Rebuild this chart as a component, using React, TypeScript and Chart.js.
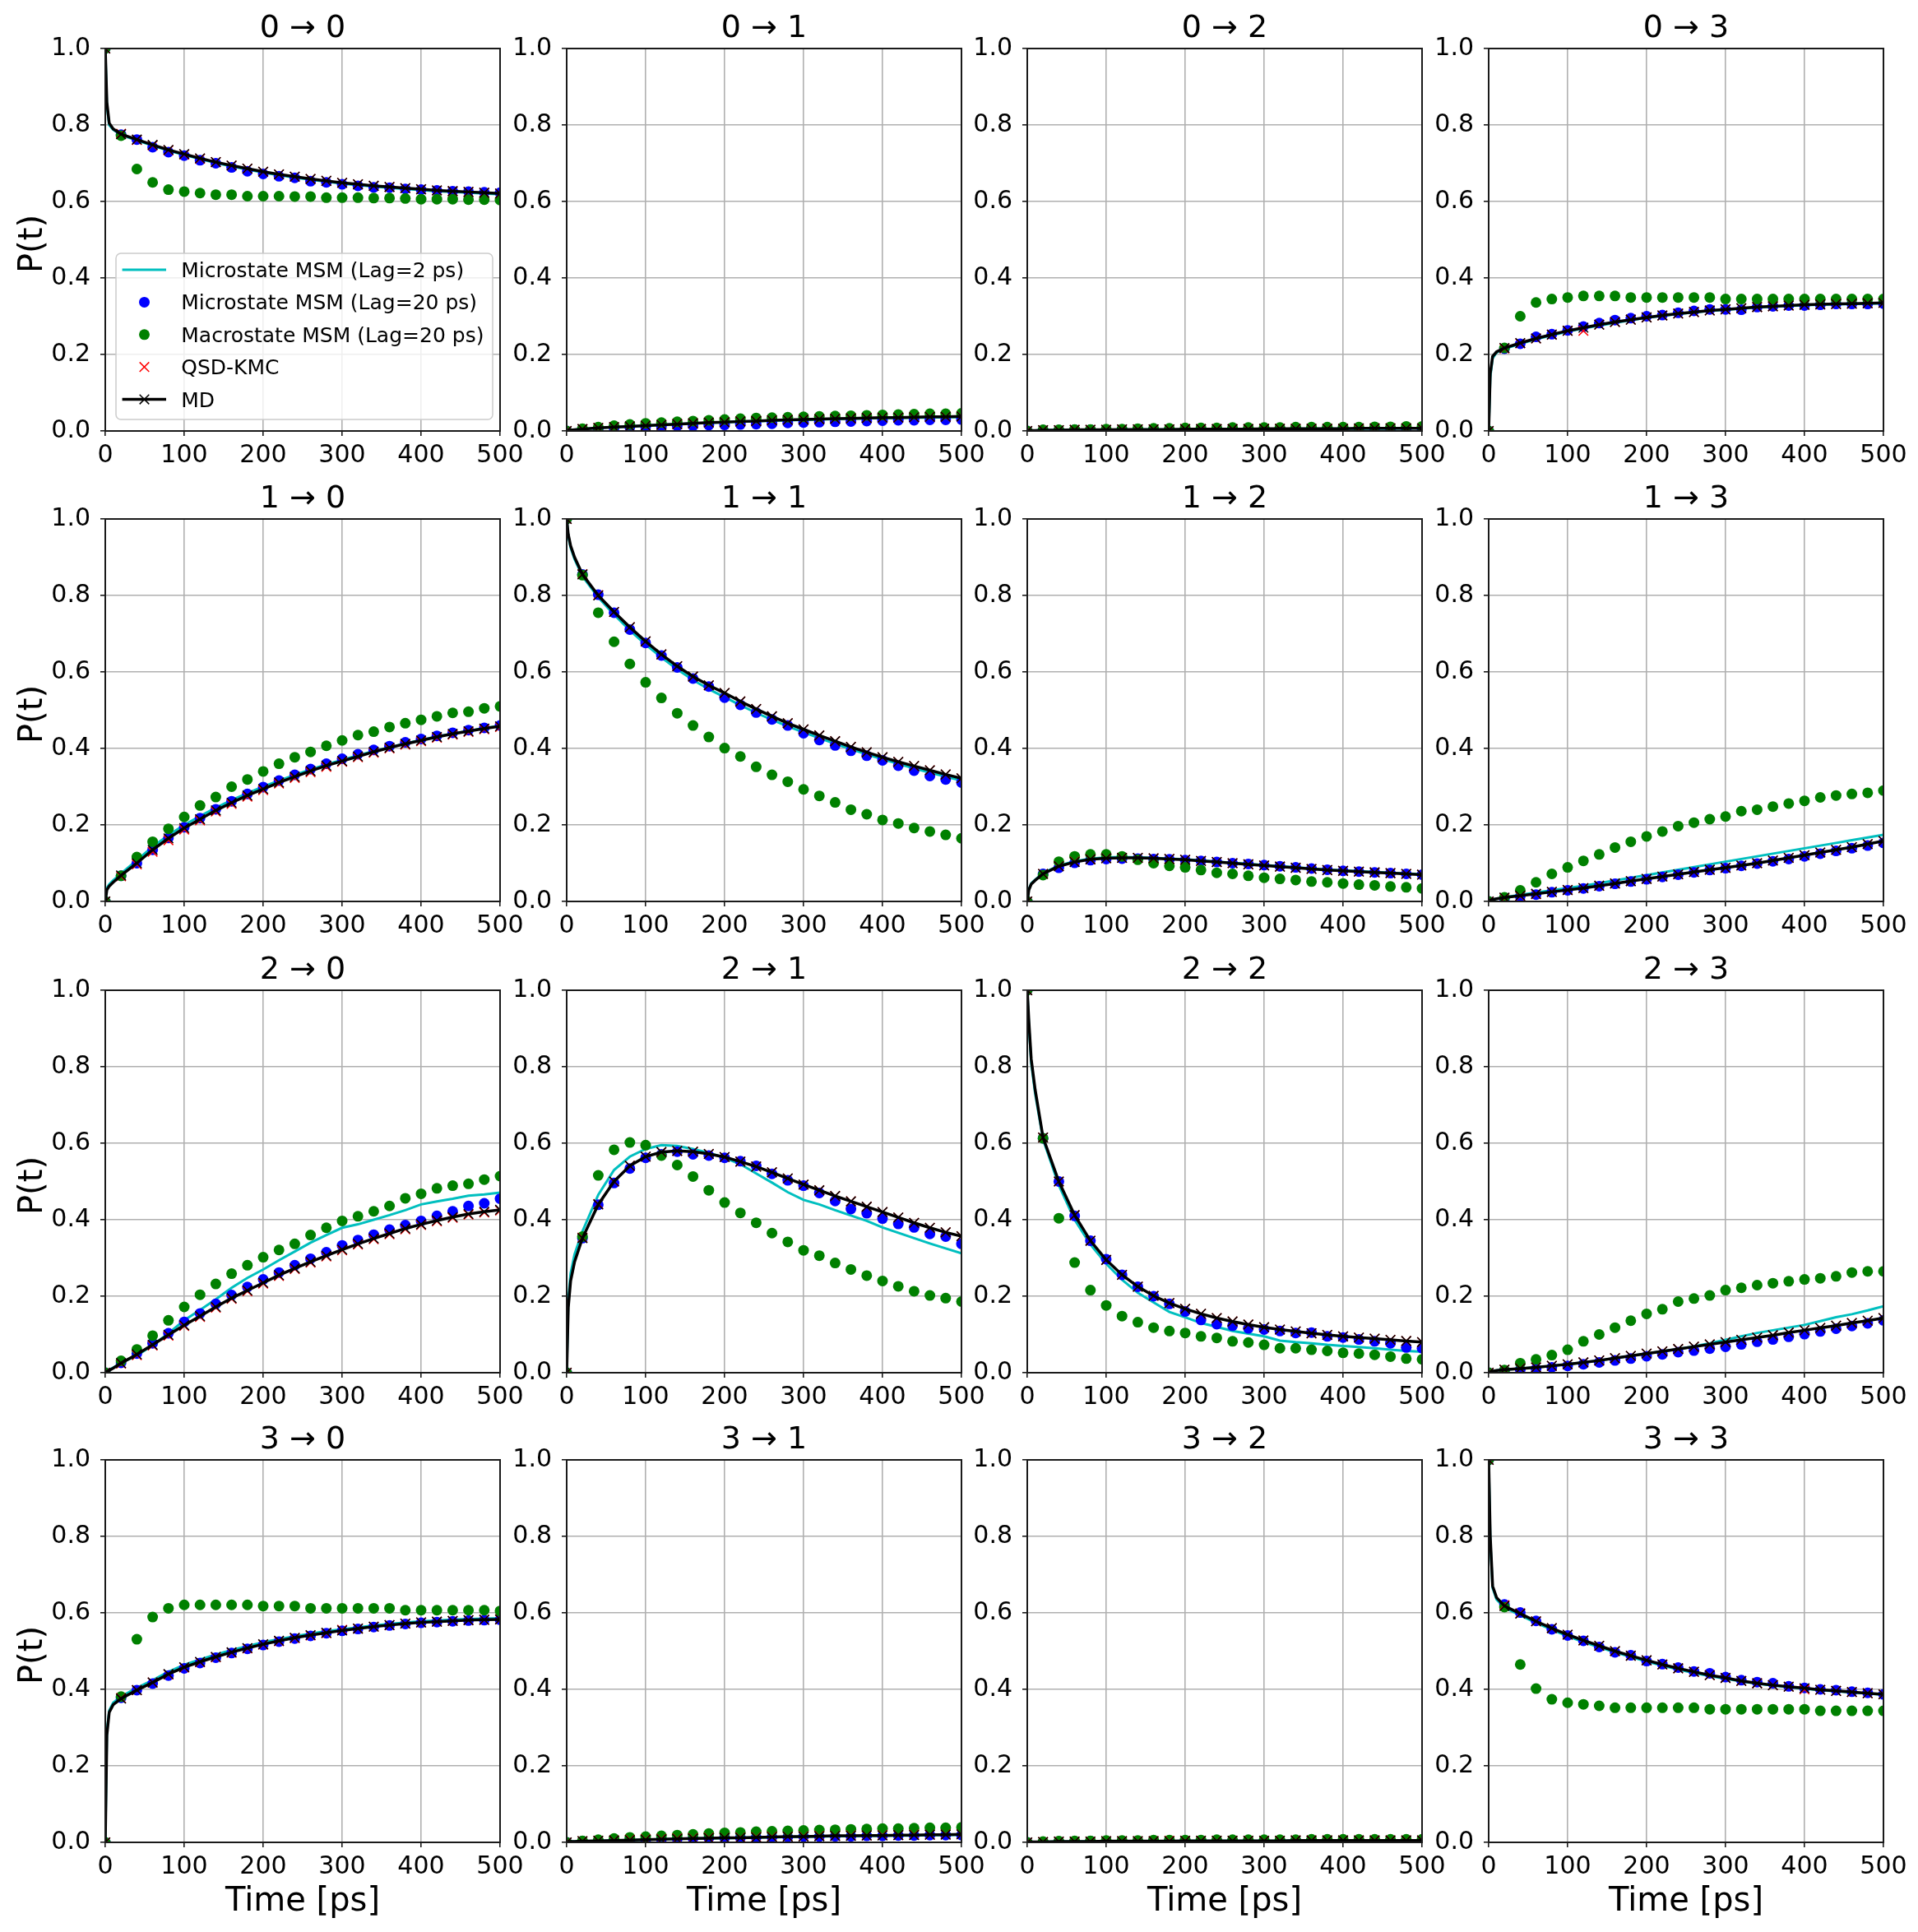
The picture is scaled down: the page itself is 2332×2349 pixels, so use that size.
import React, { useEffect, useRef } from 'react';
import { Chart, registerables } from 'chart.js';

Chart.register(...registerables);

// ---- time grids (ps) ----
// markers of the lag-20 models, QSD-KMC and MD every 20 ps
const T_MARK = [0, 20, 40, 60, 80, 100, 120, 140, 160, 180, 200, 220, 240, 260, 280, 300, 320, 340, 360, 380, 400, 420, 440, 460, 480, 500];
// continuous curves (lag-2 MSM and MD), denser at the very start
const T_LINE = [0, 2, 5, 10, 20, 40, 60, 80, 100, 120, 140, 160, 180, 200, 220, 240, 260, 280, 300, 320, 340, 360, 380, 400, 420, 440, 460, 480, 500];

const X_TICKS = [0, 100, 200, 300, 400, 500];
const Y_TICKS = [0, 0.2, 0.4, 0.6, 0.8, 1.0];
const STATES = [0, 1, 2, 3];
const SERIES_LABELS = ['Microstate MSM (Lag=2 ps)', 'Microstate MSM (Lag=20 ps)', 'Macrostate MSM (Lag=20 ps)', 'QSD-KMC', 'MD'];

// ---- 0 -> j ----
const MSM2_00 = [1.0, 0.85, 0.80, 0.788, 0.774, 0.760, 0.746, 0.733, 0.722, 0.711, 0.701, 0.692, 0.684, 0.676, 0.669, 0.663, 0.657, 0.652, 0.647, 0.643, 0.639, 0.636, 0.633, 0.630, 0.627, 0.625, 0.623, 0.621, 0.619];
const MSM20_00 = [1.0, 0.775, 0.762, 0.742, 0.729, 0.720, 0.708, 0.700, 0.689, 0.679, 0.672, 0.666, 0.662, 0.653, 0.650, 0.645, 0.641, 0.637, 0.636, 0.633, 0.631, 0.629, 0.627, 0.626, 0.624, 0.623];
const MACRO_00 = [1.0, 0.772, 0.685, 0.650, 0.631, 0.626, 0.622, 0.618, 0.618, 0.614, 0.614, 0.614, 0.613, 0.613, 0.610, 0.610, 0.610, 0.609, 0.609, 0.608, 0.606, 0.606, 0.606, 0.605, 0.605, 0.604];
const KMC_00 = [1.0, 0.777, 0.761, 0.747, 0.734, 0.723, 0.712, 0.703, 0.694, 0.686, 0.678, 0.671, 0.665, 0.659, 0.654, 0.649, 0.645, 0.641, 0.638, 0.635, 0.632, 0.629, 0.627, 0.625, 0.623, 0.621];
const MD_00 = [1.0, 0.86, 0.805, 0.79, 0.776, 0.762, 0.748, 0.735, 0.724, 0.713, 0.703, 0.694, 0.686, 0.678, 0.671, 0.665, 0.659, 0.654, 0.649, 0.645, 0.641, 0.638, 0.635, 0.632, 0.629, 0.627, 0.625, 0.623, 0.621];

const MSM2_01 = [0, 0.001, 0.002, 0.003, 0.005, 0.008, 0.010, 0.012, 0.014, 0.016, 0.018, 0.020, 0.021, 0.023, 0.024, 0.026, 0.027, 0.028, 0.029, 0.030, 0.031, 0.032, 0.033, 0.034, 0.034, 0.035, 0.035, 0.036, 0.036];
const MSM20_01 = [0, 0.004, 0.006, 0.008, 0.010, 0.011, 0.012, 0.013, 0.013, 0.015, 0.016, 0.017, 0.018, 0.019, 0.021, 0.022, 0.023, 0.024, 0.025, 0.026, 0.027, 0.028, 0.028, 0.029, 0.029, 0.030];
const MACRO_01 = [0, 0.006, 0.010, 0.014, 0.017, 0.020, 0.022, 0.024, 0.026, 0.028, 0.030, 0.032, 0.034, 0.035, 0.036, 0.037, 0.038, 0.039, 0.040, 0.041, 0.042, 0.043, 0.044, 0.045, 0.045, 0.046];
const KMC_01 = [0, 0.005, 0.008, 0.010, 0.012, 0.014, 0.016, 0.018, 0.020, 0.022, 0.023, 0.025, 0.026, 0.028, 0.029, 0.030, 0.031, 0.032, 0.033, 0.034, 0.035, 0.035, 0.036, 0.037, 0.037, 0.038];
const MD_01 = [0, 0.001, 0.002, 0.003, 0.005, 0.008, 0.010, 0.012, 0.014, 0.016, 0.018, 0.020, 0.022, 0.023, 0.025, 0.026, 0.028, 0.029, 0.030, 0.031, 0.032, 0.033, 0.034, 0.035, 0.035, 0.036, 0.037, 0.037, 0.038];

const MSM2_02 = [0, 0, 0.001, 0.001, 0.002, 0.002, 0.002, 0.003, 0.003, 0.003, 0.004, 0.004, 0.004, 0.004, 0.005, 0.005, 0.005, 0.005, 0.005, 0.005, 0.006, 0.006, 0.006, 0.006, 0.006, 0.006, 0.006, 0.007, 0.007];
const MSM20_02 = [0, 0.002, 0.002, 0.003, 0.003, 0.003, 0.004, 0.004, 0.004, 0.004, 0.005, 0.005, 0.005, 0.005, 0.005, 0.005, 0.006, 0.006, 0.006, 0.006, 0.006, 0.006, 0.006, 0.006, 0.006, 0.007];
const MACRO_02 = [0, 0.003, 0.003, 0.004, 0.004, 0.005, 0.005, 0.006, 0.007, 0.007, 0.008, 0.008, 0.008, 0.009, 0.009, 0.009, 0.009, 0.010, 0.010, 0.010, 0.010, 0.010, 0.011, 0.011, 0.012, 0.012];
const KMC_02 = [0, 0.002, 0.002, 0.003, 0.003, 0.003, 0.004, 0.004, 0.004, 0.004, 0.005, 0.005, 0.005, 0.005, 0.005, 0.006, 0.006, 0.006, 0.006, 0.006, 0.006, 0.006, 0.007, 0.007, 0.007, 0.007];
const MD_02 = [0, 0, 0.001, 0.001, 0.002, 0.002, 0.003, 0.003, 0.003, 0.004, 0.004, 0.004, 0.004, 0.005, 0.005, 0.005, 0.005, 0.005, 0.006, 0.006, 0.006, 0.006, 0.006, 0.006, 0.007, 0.007, 0.007, 0.007, 0.007];

const MSM2_03 = [0, 0.14, 0.19, 0.205, 0.215, 0.228, 0.240, 0.250, 0.260, 0.268, 0.276, 0.283, 0.290, 0.296, 0.301, 0.306, 0.310, 0.314, 0.317, 0.320, 0.323, 0.325, 0.327, 0.329, 0.330, 0.331, 0.332, 0.333, 0.334];
const MSM20_03 = [0, 0.215, 0.228, 0.246, 0.253, 0.263, 0.273, 0.282, 0.290, 0.295, 0.300, 0.303, 0.309, 0.314, 0.318, 0.318, 0.317, 0.324, 0.326, 0.328, 0.328, 0.330, 0.332, 0.332, 0.332, 0.333];
const MACRO_03 = [0, 0.217, 0.300, 0.336, 0.345, 0.349, 0.353, 0.353, 0.353, 0.349, 0.349, 0.349, 0.349, 0.349, 0.349, 0.345, 0.345, 0.345, 0.345, 0.345, 0.345, 0.345, 0.345, 0.345, 0.345, 0.345];
const KMC_03 = [0, 0.216, 0.229, 0.242, 0.252, 0.262, 0.262, 0.278, 0.285, 0.291, 0.297, 0.302, 0.307, 0.311, 0.315, 0.318, 0.321, 0.324, 0.326, 0.328, 0.330, 0.331, 0.332, 0.333, 0.334, 0.335];
const MD_03 = [0, 0.15, 0.195, 0.207, 0.217, 0.230, 0.242, 0.252, 0.262, 0.270, 0.278, 0.285, 0.291, 0.297, 0.302, 0.307, 0.311, 0.315, 0.318, 0.321, 0.324, 0.326, 0.328, 0.330, 0.331, 0.332, 0.333, 0.334, 0.335];

// ---- 1 -> j ----
const MSM2_10 = [0, 0.035, 0.045, 0.055, 0.073, 0.108, 0.143, 0.173, 0.200, 0.223, 0.245, 0.265, 0.283, 0.300, 0.316, 0.331, 0.345, 0.358, 0.370, 0.382, 0.393, 0.403, 0.413, 0.422, 0.431, 0.439, 0.446, 0.453, 0.459];
const MSM20_10 = [0, 0.067, 0.100, 0.135, 0.166, 0.194, 0.218, 0.241, 0.262, 0.281, 0.299, 0.316, 0.331, 0.346, 0.360, 0.373, 0.385, 0.396, 0.406, 0.416, 0.425, 0.433, 0.441, 0.448, 0.454, 0.460];
const MACRO_10 = [0, 0.067, 0.116, 0.156, 0.190, 0.221, 0.251, 0.273, 0.300, 0.319, 0.340, 0.360, 0.377, 0.391, 0.407, 0.421, 0.435, 0.444, 0.456, 0.466, 0.475, 0.484, 0.493, 0.496, 0.505, 0.510];
const KMC_10 = [0, 0.066, 0.097, 0.130, 0.160, 0.188, 0.212, 0.235, 0.255, 0.274, 0.291, 0.308, 0.323, 0.338, 0.352, 0.365, 0.377, 0.389, 0.400, 0.410, 0.419, 0.428, 0.436, 0.443, 0.450, 0.456];
const MD_10 = [0, 0.03, 0.04, 0.05, 0.068, 0.10, 0.135, 0.165, 0.192, 0.215, 0.238, 0.258, 0.277, 0.294, 0.311, 0.326, 0.341, 0.355, 0.367, 0.379, 0.391, 0.402, 0.412, 0.421, 0.430, 0.438, 0.445, 0.452, 0.458];

const MSM2_11 = [1.0, 0.955, 0.925, 0.895, 0.85, 0.795, 0.750, 0.709, 0.672, 0.638, 0.607, 0.579, 0.555, 0.534, 0.513, 0.493, 0.475, 0.458, 0.442, 0.427, 0.412, 0.398, 0.385, 0.372, 0.360, 0.348, 0.337, 0.326, 0.316];
const MSM20_11 = [1.0, 0.855, 0.802, 0.755, 0.711, 0.676, 0.643, 0.612, 0.583, 0.562, 0.533, 0.514, 0.494, 0.476, 0.460, 0.440, 0.422, 0.408, 0.394, 0.381, 0.369, 0.355, 0.342, 0.328, 0.319, 0.311];
const MACRO_11 = [1.0, 0.853, 0.755, 0.679, 0.621, 0.573, 0.532, 0.492, 0.460, 0.430, 0.401, 0.379, 0.352, 0.331, 0.313, 0.293, 0.276, 0.259, 0.240, 0.228, 0.213, 0.204, 0.192, 0.183, 0.174, 0.165];
const KMC_11 = [1.0, 0.856, 0.801, 0.757, 0.717, 0.680, 0.646, 0.615, 0.588, 0.565, 0.545, 0.523, 0.503, 0.484, 0.466, 0.450, 0.434, 0.419, 0.404, 0.390, 0.377, 0.365, 0.354, 0.343, 0.332, 0.322];
const MD_11 = [1.0, 0.96, 0.93, 0.90, 0.855, 0.80, 0.757, 0.717, 0.680, 0.646, 0.615, 0.588, 0.565, 0.545, 0.523, 0.503, 0.484, 0.466, 0.450, 0.434, 0.419, 0.404, 0.390, 0.377, 0.365, 0.354, 0.343, 0.332, 0.322];

const MSM2_12 = [0, 0.032, 0.047, 0.057, 0.074, 0.094, 0.105, 0.112, 0.115, 0.116, 0.115, 0.114, 0.112, 0.110, 0.107, 0.104, 0.101, 0.098, 0.095, 0.092, 0.089, 0.086, 0.083, 0.081, 0.079, 0.077, 0.075, 0.073, 0.071];
const MSM20_12 = [0, 0.072, 0.088, 0.101, 0.108, 0.111, 0.112, 0.112, 0.111, 0.110, 0.108, 0.106, 0.103, 0.100, 0.098, 0.095, 0.092, 0.089, 0.086, 0.083, 0.080, 0.078, 0.076, 0.074, 0.072, 0.070];
const MACRO_12 = [0, 0.069, 0.104, 0.118, 0.123, 0.123, 0.118, 0.109, 0.100, 0.093, 0.089, 0.082, 0.075, 0.072, 0.067, 0.062, 0.059, 0.056, 0.052, 0.050, 0.047, 0.044, 0.042, 0.039, 0.037, 0.034];
const KMC_12 = [0, 0.072, 0.092, 0.104, 0.110, 0.113, 0.114, 0.114, 0.113, 0.111, 0.109, 0.106, 0.103, 0.100, 0.097, 0.094, 0.091, 0.088, 0.085, 0.082, 0.080, 0.078, 0.076, 0.074, 0.072, 0.070];
const MD_12 = [0, 0.03, 0.045, 0.055, 0.072, 0.092, 0.103, 0.110, 0.113, 0.114, 0.114, 0.113, 0.111, 0.109, 0.106, 0.103, 0.100, 0.097, 0.094, 0.091, 0.088, 0.085, 0.082, 0.080, 0.078, 0.076, 0.074, 0.072, 0.070];

const MSM2_13 = [0, 0.003, 0.005, 0.007, 0.011, 0.017, 0.023, 0.029, 0.035, 0.041, 0.048, 0.055, 0.062, 0.069, 0.076, 0.083, 0.090, 0.097, 0.104, 0.111, 0.118, 0.125, 0.132, 0.139, 0.146, 0.153, 0.160, 0.167, 0.174];
const MSM20_13 = [0, 0.008, 0.013, 0.018, 0.024, 0.029, 0.034, 0.040, 0.046, 0.052, 0.058, 0.064, 0.070, 0.076, 0.082, 0.087, 0.093, 0.099, 0.105, 0.111, 0.118, 0.125, 0.132, 0.139, 0.146, 0.153];
const MACRO_13 = [0, 0.011, 0.029, 0.050, 0.072, 0.089, 0.106, 0.123, 0.141, 0.156, 0.170, 0.183, 0.197, 0.206, 0.215, 0.222, 0.236, 0.240, 0.248, 0.256, 0.263, 0.272, 0.277, 0.281, 0.284, 0.290];
const KMC_13 = [0, 0.009, 0.014, 0.019, 0.025, 0.030, 0.035, 0.041, 0.047, 0.053, 0.059, 0.065, 0.071, 0.077, 0.083, 0.088, 0.094, 0.100, 0.107, 0.114, 0.121, 0.128, 0.135, 0.142, 0.150, 0.158];
const MD_13 = [0, 0.003, 0.005, 0.007, 0.010, 0.015, 0.020, 0.025, 0.030, 0.035, 0.041, 0.047, 0.053, 0.059, 0.065, 0.071, 0.077, 0.083, 0.088, 0.094, 0.100, 0.107, 0.114, 0.121, 0.128, 0.135, 0.142, 0.150, 0.158];

// ---- 2 -> j ----
const MSM2_20 = [0, 0.004, 0.008, 0.013, 0.026, 0.045, 0.072, 0.103, 0.137, 0.164, 0.192, 0.222, 0.248, 0.270, 0.294, 0.317, 0.340, 0.360, 0.379, 0.388, 0.400, 0.412, 0.425, 0.440, 0.448, 0.455, 0.463, 0.466, 0.471];
const MSM20_20 = [0, 0.026, 0.050, 0.077, 0.103, 0.133, 0.155, 0.180, 0.203, 0.224, 0.244, 0.262, 0.281, 0.298, 0.315, 0.333, 0.347, 0.361, 0.374, 0.386, 0.397, 0.410, 0.422, 0.436, 0.443, 0.455];
const MACRO_20 = [0, 0.031, 0.061, 0.097, 0.137, 0.172, 0.204, 0.232, 0.259, 0.281, 0.302, 0.321, 0.337, 0.360, 0.379, 0.397, 0.409, 0.422, 0.436, 0.456, 0.468, 0.482, 0.489, 0.494, 0.505, 0.514];
const KMC_20 = [0, 0.024, 0.046, 0.071, 0.097, 0.122, 0.146, 0.170, 0.193, 0.213, 0.233, 0.253, 0.271, 0.288, 0.304, 0.320, 0.335, 0.349, 0.362, 0.375, 0.386, 0.396, 0.405, 0.413, 0.419, 0.424];
const MD_20 = [0, 0.003, 0.006, 0.012, 0.025, 0.048, 0.073, 0.099, 0.124, 0.148, 0.172, 0.195, 0.215, 0.235, 0.255, 0.273, 0.290, 0.306, 0.322, 0.337, 0.351, 0.364, 0.377, 0.388, 0.398, 0.407, 0.415, 0.421, 0.426];

const MSM2_21 = [0, 0.19, 0.26, 0.31, 0.37, 0.465, 0.53, 0.565, 0.585, 0.595, 0.593, 0.585, 0.575, 0.562, 0.545, 0.521, 0.497, 0.472, 0.452, 0.440, 0.425, 0.411, 0.397, 0.380, 0.366, 0.352, 0.338, 0.325, 0.312];
const MSM20_21 = [0, 0.352, 0.439, 0.496, 0.534, 0.562, 0.571, 0.578, 0.571, 0.568, 0.562, 0.553, 0.541, 0.520, 0.503, 0.489, 0.470, 0.449, 0.428, 0.417, 0.403, 0.389, 0.380, 0.363, 0.356, 0.337];
const MACRO_21 = [0, 0.356, 0.516, 0.583, 0.602, 0.595, 0.568, 0.543, 0.513, 0.477, 0.445, 0.418, 0.392, 0.365, 0.342, 0.320, 0.306, 0.287, 0.270, 0.254, 0.240, 0.226, 0.213, 0.202, 0.195, 0.186];
const KMC_21 = [0, 0.353, 0.441, 0.500, 0.541, 0.565, 0.577, 0.580, 0.578, 0.572, 0.564, 0.552, 0.539, 0.524, 0.508, 0.492, 0.477, 0.462, 0.448, 0.434, 0.420, 0.406, 0.392, 0.379, 0.367, 0.357];
const MD_21 = [0, 0.17, 0.24, 0.29, 0.352, 0.44, 0.50, 0.541, 0.565, 0.577, 0.580, 0.578, 0.572, 0.564, 0.552, 0.539, 0.524, 0.508, 0.492, 0.477, 0.462, 0.448, 0.434, 0.420, 0.406, 0.392, 0.379, 0.367, 0.357];

const MSM2_22 = [1.0, 0.91, 0.81, 0.73, 0.61, 0.49, 0.400, 0.335, 0.285, 0.243, 0.209, 0.184, 0.159, 0.145, 0.130, 0.120, 0.109, 0.102, 0.095, 0.084, 0.080, 0.077, 0.073, 0.070, 0.067, 0.064, 0.060, 0.057, 0.055];
const MSM20_22 = [1.0, 0.613, 0.500, 0.410, 0.345, 0.297, 0.256, 0.225, 0.200, 0.180, 0.160, 0.138, 0.127, 0.123, 0.116, 0.113, 0.109, 0.104, 0.105, 0.095, 0.092, 0.087, 0.082, 0.077, 0.066, 0.064];
const MACRO_22 = [1.0, 0.613, 0.404, 0.288, 0.216, 0.176, 0.148, 0.132, 0.118, 0.109, 0.104, 0.095, 0.091, 0.082, 0.079, 0.073, 0.064, 0.064, 0.060, 0.057, 0.052, 0.050, 0.047, 0.042, 0.037, 0.035];
const KMC_22 = [1.0, 0.615, 0.500, 0.412, 0.345, 0.295, 0.256, 0.225, 0.201, 0.182, 0.167, 0.154, 0.143, 0.134, 0.126, 0.119, 0.113, 0.108, 0.103, 0.099, 0.095, 0.092, 0.089, 0.086, 0.083, 0.080];
const MD_22 = [1.0, 0.92, 0.82, 0.74, 0.615, 0.50, 0.412, 0.345, 0.295, 0.256, 0.225, 0.201, 0.182, 0.167, 0.154, 0.143, 0.134, 0.126, 0.119, 0.113, 0.108, 0.103, 0.099, 0.095, 0.092, 0.089, 0.086, 0.083, 0.080];

const MSM2_23 = [0, 0.002, 0.004, 0.006, 0.008, 0.011, 0.014, 0.018, 0.022, 0.027, 0.032, 0.038, 0.044, 0.050, 0.056, 0.062, 0.069, 0.077, 0.086, 0.095, 0.104, 0.111, 0.118, 0.125, 0.135, 0.145, 0.153, 0.163, 0.174];
const MSM20_23 = [0, 0.006, 0.008, 0.010, 0.014, 0.018, 0.022, 0.027, 0.032, 0.037, 0.043, 0.048, 0.054, 0.058, 0.063, 0.068, 0.074, 0.081, 0.087, 0.094, 0.101, 0.108, 0.115, 0.122, 0.129, 0.137];
const MACRO_23 = [0, 0.007, 0.025, 0.035, 0.046, 0.060, 0.082, 0.100, 0.118, 0.136, 0.154, 0.166, 0.186, 0.194, 0.202, 0.216, 0.222, 0.229, 0.234, 0.239, 0.244, 0.247, 0.252, 0.262, 0.265, 0.265];
const KMC_23 = [0, 0.008, 0.011, 0.014, 0.018, 0.022, 0.027, 0.032, 0.038, 0.044, 0.050, 0.056, 0.062, 0.068, 0.074, 0.080, 0.086, 0.092, 0.098, 0.105, 0.111, 0.117, 0.123, 0.130, 0.136, 0.143];
const MD_23 = [0, 0.002, 0.004, 0.006, 0.008, 0.011, 0.014, 0.018, 0.022, 0.027, 0.032, 0.038, 0.044, 0.050, 0.056, 0.062, 0.068, 0.074, 0.080, 0.086, 0.092, 0.098, 0.105, 0.111, 0.117, 0.123, 0.130, 0.136, 0.143];

// ---- 3 -> j ----
const MSM2_30 = [0, 0.29, 0.345, 0.365, 0.381, 0.404, 0.424, 0.446, 0.464, 0.478, 0.491, 0.503, 0.513, 0.523, 0.531, 0.539, 0.546, 0.552, 0.557, 0.562, 0.567, 0.571, 0.575, 0.578, 0.580, 0.582, 0.584, 0.585, 0.586];
const MSM20_30 = [0, 0.378, 0.398, 0.415, 0.436, 0.455, 0.469, 0.483, 0.495, 0.506, 0.516, 0.525, 0.533, 0.540, 0.547, 0.553, 0.558, 0.563, 0.567, 0.571, 0.574, 0.576, 0.578, 0.580, 0.581, 0.582];
const MACRO_30 = [0, 0.381, 0.531, 0.589, 0.612, 0.621, 0.621, 0.621, 0.621, 0.621, 0.618, 0.618, 0.618, 0.612, 0.612, 0.612, 0.612, 0.612, 0.612, 0.607, 0.607, 0.607, 0.607, 0.607, 0.607, 0.605];
const KMC_30 = [0, 0.377, 0.398, 0.418, 0.439, 0.457, 0.471, 0.484, 0.496, 0.507, 0.517, 0.526, 0.534, 0.541, 0.547, 0.556, 0.559, 0.564, 0.568, 0.572, 0.575, 0.577, 0.579, 0.581, 0.582, 0.583];
const MD_30 = [0, 0.28, 0.34, 0.36, 0.376, 0.398, 0.418, 0.440, 0.458, 0.472, 0.485, 0.497, 0.508, 0.518, 0.527, 0.535, 0.542, 0.548, 0.554, 0.559, 0.564, 0.568, 0.572, 0.575, 0.577, 0.579, 0.581, 0.582, 0.583];

const MSM2_31 = [0, 0.001, 0.002, 0.002, 0.003, 0.004, 0.005, 0.006, 0.007, 0.008, 0.009, 0.010, 0.011, 0.011, 0.012, 0.013, 0.013, 0.014, 0.015, 0.015, 0.016, 0.016, 0.017, 0.017, 0.018, 0.018, 0.019, 0.019, 0.020];
const MSM20_31 = [0, 0.003, 0.004, 0.005, 0.006, 0.007, 0.008, 0.009, 0.010, 0.011, 0.012, 0.012, 0.013, 0.014, 0.014, 0.015, 0.015, 0.016, 0.016, 0.017, 0.017, 0.018, 0.018, 0.019, 0.019, 0.019];
const MACRO_31 = [0, 0.004, 0.007, 0.010, 0.013, 0.015, 0.017, 0.019, 0.021, 0.023, 0.025, 0.026, 0.028, 0.029, 0.030, 0.031, 0.032, 0.033, 0.034, 0.035, 0.036, 0.036, 0.037, 0.038, 0.038, 0.039];
const KMC_31 = [0, 0.003, 0.004, 0.005, 0.007, 0.008, 0.009, 0.010, 0.011, 0.012, 0.012, 0.013, 0.014, 0.015, 0.015, 0.016, 0.017, 0.017, 0.018, 0.018, 0.019, 0.019, 0.020, 0.020, 0.021, 0.021];
const MD_31 = [0, 0.001, 0.002, 0.002, 0.003, 0.004, 0.005, 0.006, 0.007, 0.008, 0.009, 0.010, 0.011, 0.012, 0.012, 0.013, 0.014, 0.015, 0.015, 0.016, 0.017, 0.017, 0.018, 0.018, 0.019, 0.019, 0.020, 0.020, 0.021];

const MSM2_32 = [0, 0, 0.001, 0.001, 0.001, 0.002, 0.002, 0.002, 0.003, 0.003, 0.003, 0.003, 0.003, 0.004, 0.004, 0.004, 0.004, 0.004, 0.004, 0.004, 0.005, 0.005, 0.005, 0.005, 0.005, 0.005, 0.005, 0.005, 0.005];
const MSM20_32 = [0, 0.001, 0.002, 0.002, 0.003, 0.003, 0.003, 0.003, 0.004, 0.004, 0.004, 0.004, 0.004, 0.004, 0.004, 0.005, 0.005, 0.005, 0.005, 0.005, 0.005, 0.005, 0.005, 0.005, 0.005, 0.005];
const MACRO_32 = [0, 0.002, 0.003, 0.004, 0.004, 0.005, 0.005, 0.005, 0.006, 0.006, 0.006, 0.006, 0.007, 0.007, 0.007, 0.007, 0.007, 0.007, 0.008, 0.008, 0.008, 0.008, 0.008, 0.008, 0.008, 0.008];
const KMC_32 = [0, 0.001, 0.002, 0.002, 0.002, 0.003, 0.003, 0.003, 0.003, 0.004, 0.004, 0.004, 0.004, 0.004, 0.004, 0.004, 0.004, 0.005, 0.005, 0.005, 0.005, 0.005, 0.005, 0.005, 0.005, 0.005];
const MD_32 = [0, 0, 0.001, 0.001, 0.001, 0.002, 0.002, 0.002, 0.003, 0.003, 0.003, 0.003, 0.003, 0.004, 0.004, 0.004, 0.004, 0.004, 0.004, 0.004, 0.005, 0.005, 0.005, 0.005, 0.005, 0.005, 0.005, 0.005, 0.005];

const MSM2_33 = [1.0, 0.79, 0.665, 0.635, 0.614, 0.594, 0.574, 0.556, 0.539, 0.524, 0.510, 0.497, 0.485, 0.473, 0.462, 0.452, 0.443, 0.435, 0.428, 0.421, 0.415, 0.410, 0.406, 0.402, 0.398, 0.395, 0.392, 0.389, 0.386];
const MSM20_33 = [1.0, 0.622, 0.601, 0.579, 0.557, 0.541, 0.527, 0.511, 0.497, 0.489, 0.474, 0.466, 0.457, 0.447, 0.442, 0.432, 0.424, 0.419, 0.416, 0.408, 0.404, 0.400, 0.398, 0.394, 0.391, 0.387];
const MACRO_33 = [1.0, 0.615, 0.465, 0.402, 0.374, 0.365, 0.361, 0.357, 0.352, 0.352, 0.352, 0.352, 0.352, 0.352, 0.348, 0.348, 0.348, 0.348, 0.348, 0.348, 0.348, 0.344, 0.344, 0.344, 0.344, 0.344];
const KMC_33 = [1.0, 0.620, 0.599, 0.578, 0.560, 0.543, 0.528, 0.514, 0.500, 0.488, 0.476, 0.465, 0.455, 0.446, 0.437, 0.430, 0.422, 0.416, 0.411, 0.407, 0.400, 0.399, 0.396, 0.393, 0.390, 0.387];
const MD_33 = [1.0, 0.80, 0.67, 0.64, 0.618, 0.598, 0.578, 0.560, 0.543, 0.528, 0.514, 0.500, 0.488, 0.476, 0.465, 0.455, 0.446, 0.437, 0.430, 0.422, 0.416, 0.411, 0.407, 0.403, 0.399, 0.396, 0.393, 0.390, 0.387];

type PanelData = { msm2: number[]; msm20: number[]; macro: number[]; kmc: number[]; md: number[] };

// row = initial state, column = final state
const PANELS: PanelData[][] = [
  [
    { msm2: MSM2_00, msm20: MSM20_00, macro: MACRO_00, kmc: KMC_00, md: MD_00 },
    { msm2: MSM2_01, msm20: MSM20_01, macro: MACRO_01, kmc: KMC_01, md: MD_01 },
    { msm2: MSM2_02, msm20: MSM20_02, macro: MACRO_02, kmc: KMC_02, md: MD_02 },
    { msm2: MSM2_03, msm20: MSM20_03, macro: MACRO_03, kmc: KMC_03, md: MD_03 },
  ],
  [
    { msm2: MSM2_10, msm20: MSM20_10, macro: MACRO_10, kmc: KMC_10, md: MD_10 },
    { msm2: MSM2_11, msm20: MSM20_11, macro: MACRO_11, kmc: KMC_11, md: MD_11 },
    { msm2: MSM2_12, msm20: MSM20_12, macro: MACRO_12, kmc: KMC_12, md: MD_12 },
    { msm2: MSM2_13, msm20: MSM20_13, macro: MACRO_13, kmc: KMC_13, md: MD_13 },
  ],
  [
    { msm2: MSM2_20, msm20: MSM20_20, macro: MACRO_20, kmc: KMC_20, md: MD_20 },
    { msm2: MSM2_21, msm20: MSM20_21, macro: MACRO_21, kmc: KMC_21, md: MD_21 },
    { msm2: MSM2_22, msm20: MSM20_22, macro: MACRO_22, kmc: KMC_22, md: MD_22 },
    { msm2: MSM2_23, msm20: MSM20_23, macro: MACRO_23, kmc: KMC_23, md: MD_23 },
  ],
  [
    { msm2: MSM2_30, msm20: MSM20_30, macro: MACRO_30, kmc: KMC_30, md: MD_30 },
    { msm2: MSM2_31, msm20: MSM20_31, macro: MACRO_31, kmc: KMC_31, md: MD_31 },
    { msm2: MSM2_32, msm20: MSM20_32, macro: MACRO_32, kmc: KMC_32, md: MD_32 },
    { msm2: MSM2_33, msm20: MSM20_33, macro: MACRO_33, kmc: KMC_33, md: MD_33 },
  ],
];

// ---- layout & style ----
const FONT = "'DejaVu Sans', 'Noto Sans', sans-serif";
const COL_LEFT = [128, 689, 1249, 1810];
const ROW_TOP = [59, 631, 1204, 1775];
const PLOT_W = 480;
const PLOT_H = 465;
const PAD_L = 120;
const PAD_T = 60;
const PAD_R = 50;
const PAD_B = 100;
const CANVAS_W = PAD_L + PLOT_W + PAD_R;
const CANVAS_H = PAD_T + PLOT_H + PAD_B;

const C_CYAN = '#00bfbf';
const C_BLUE = '#0000ff';
const C_GREEN = '#008000';
const C_RED = '#ff0000';
const C_BLACK = '#000000';
const DOT_R = 6.5;
const CROSS_R = 8.2;

const pts = (ts: number[], ys: number[]) => ts.map((t, i) => ({ x: t, y: ys[i] }));

function drawCross(ctx: CanvasRenderingContext2D, x: number, y: number, h: number, color: string) {
  ctx.beginPath();
  ctx.moveTo(x - h, y - h);
  ctx.lineTo(x + h, y + h);
  ctx.moveTo(x - h, y + h);
  ctx.lineTo(x + h, y - h);
  ctx.strokeStyle = color;
  ctx.lineWidth = 1.5;
  ctx.stroke();
}

function roundedRect(ctx: CanvasRenderingContext2D, x: number, y: number, w: number, h: number, r: number) {
  ctx.beginPath();
  ctx.moveTo(x + r, y);
  ctx.lineTo(x + w - r, y);
  ctx.arcTo(x + w, y, x + w, y + r, r);
  ctx.lineTo(x + w, y + h - r);
  ctx.arcTo(x + w, y + h, x + w - r, y + h, r);
  ctx.lineTo(x + r, y + h);
  ctx.arcTo(x, y + h, x, y + h - r, r);
  ctx.lineTo(x, y + r);
  ctx.arcTo(x, y, x + r, y, r);
  ctx.closePath();
}

function drawLegend(ctx: CanvasRenderingContext2D, a: { left: number; top: number }) {
  const x = a.left + 13;
  const y = a.top + 249;
  const w = 458;
  const h = 202;
  roundedRect(ctx, x, y, w, h, 6);
  ctx.fillStyle = 'rgba(255,255,255,0.8)';
  ctx.fill();
  ctx.strokeStyle = '#cccccc';
  ctx.lineWidth = 1.5;
  ctx.stroke();

  const hx0 = x + 7.6;
  const hx1 = x + 61;
  const mx = x + 34.5;
  SERIES_LABELS.forEach((label, i) => {
    const cy = y + 20 + i * 39.4;
    if (i === 0 || i === 4) {
      ctx.beginPath();
      ctx.moveTo(hx0, cy);
      ctx.lineTo(hx1, cy);
      ctx.strokeStyle = i === 0 ? C_CYAN : C_BLACK;
      ctx.lineWidth = i === 0 ? 3 : 3.5;
      ctx.stroke();
      if (i === 4) drawCross(ctx, mx, cy, 5.8, C_BLACK);
    } else if (i === 1 || i === 2) {
      ctx.beginPath();
      ctx.arc(mx, cy, DOT_R, 0, Math.PI * 2);
      ctx.fillStyle = i === 1 ? C_BLUE : C_GREEN;
      ctx.fill();
    } else {
      drawCross(ctx, mx, cy, 5.8, C_RED);
    }
    ctx.fillStyle = '#000';
    ctx.font = `25px ${FONT}`;
    ctx.textAlign = 'left';
    ctx.textBaseline = 'alphabetic';
    ctx.fillText(label, x + 79.3, cy + 9);
  });
}

function decorPlugin(row: number, col: number) {
  return {
    id: 'panelDecor',
    afterDraw(chart: Chart) {
      const { ctx, chartArea: a } = chart;
      ctx.save();
      ctx.strokeStyle = '#1a1a1a';
      ctx.lineWidth = 2;
      ctx.strokeRect(a.left, a.top, a.right - a.left, a.bottom - a.top);

      ctx.fillStyle = '#000';
      ctx.textAlign = 'center';
      ctx.textBaseline = 'alphabetic';
      ctx.font = `38px ${FONT}`;
      ctx.fillText(`${STATES[row]} → ${STATES[col]}`, (a.left + a.right) / 2, a.top - 14);

      if (col === 0) {
        ctx.save();
        ctx.translate(a.left - 77, (a.top + a.bottom) / 2 + 5);
        ctx.rotate(-Math.PI / 2);
        ctx.font = `40px ${FONT}`;
        ctx.fillText('P(t)', 0, 0);
        ctx.restore();
      }
      if (row === STATES.length - 1) {
        ctx.font = `40px ${FONT}`;
        ctx.fillText('Time [ps]', (a.left + a.right) / 2, a.bottom + 83);
      }
      if (row === 0 && col === 0) drawLegend(ctx, a);
      ctx.restore();
    },
  };
}

function Panel({ row, col }: { row: number; col: number }) {
  const ref = useRef<HTMLCanvasElement | null>(null);

  useEffect(() => {
    const canvas = ref.current;
    if (!canvas) return;
    const d = PANELS[row][col];
    const tickFont = { family: FONT, size: 30 };
    const grid = {
      color: '#b0b0b0',
      lineWidth: 1.6,
      tickColor: '#1a1a1a',
      tickLength: 6,
      tickWidth: 1.6,
      drawTicks: true,
    };

    const chart = new Chart(canvas, {
      type: 'line',
      data: {
        datasets: [
          {
            label: SERIES_LABELS[0],
            data: pts(T_LINE, d.msm2),
            borderColor: C_CYAN,
            borderWidth: 3,
            pointRadius: 0,
            tension: 0,
            clip: 0,
            order: 5,
          },
          {
            label: SERIES_LABELS[1],
            data: pts(T_MARK, d.msm20),
            showLine: false,
            pointStyle: 'circle',
            pointRadius: DOT_R,
            pointBackgroundColor: C_BLUE,
            pointBorderWidth: 0,
            clip: 0,
            order: 4,
          },
          {
            label: SERIES_LABELS[2],
            data: pts(T_MARK, d.macro),
            showLine: false,
            pointStyle: 'circle',
            pointRadius: DOT_R,
            pointBackgroundColor: C_GREEN,
            pointBorderWidth: 0,
            clip: 0,
            order: 3,
          },
          {
            label: SERIES_LABELS[3],
            data: pts(T_MARK, d.kmc),
            showLine: false,
            pointStyle: 'crossRot',
            pointRadius: CROSS_R,
            pointBorderColor: C_RED,
            pointBorderWidth: 1.5,
            clip: 0,
            order: 2,
          },
          {
            label: SERIES_LABELS[4],
            data: pts(T_LINE, d.md),
            borderColor: C_BLACK,
            borderWidth: 3.5,
            tension: 0,
            pointStyle: 'crossRot',
            pointRadius: (c: any) => (T_LINE[c.dataIndex] % 20 === 0 ? CROSS_R : 0),
            pointBorderColor: C_BLACK,
            pointBorderWidth: 1.5,
            clip: 0,
            order: 1,
          },
        ],
      },
      options: {
        animation: false,
        responsive: false,
        maintainAspectRatio: false,
        devicePixelRatio: 1,
        events: [],
        layout: { padding: { left: 0, top: PAD_T, right: PAD_R, bottom: 0 } },
        plugins: {
          legend: { display: false },
          tooltip: { enabled: false },
          title: { display: false },
        },
        scales: {
          x: {
            type: 'linear',
            min: X_TICKS[0],
            max: X_TICKS[X_TICKS.length - 1],
            afterFit: (s: any) => {
              s.height = PAD_B;
            },
            afterBuildTicks: (s: any) => {
              s.ticks = X_TICKS.map((v) => ({ value: v }));
            },
            ticks: {
              font: tickFont,
              color: '#000',
              padding: 6,
              maxRotation: 0,
              autoSkip: false,
              callback: (v: any) => String(v),
            },
            grid,
            border: { display: false },
          },
          y: {
            type: 'linear',
            min: Y_TICKS[0],
            max: Y_TICKS[Y_TICKS.length - 1],
            afterFit: (s: any) => {
              s.width = PAD_L;
            },
            afterBuildTicks: (s: any) => {
              s.ticks = Y_TICKS.map((v) => ({ value: v }));
            },
            ticks: {
              font: tickFont,
              color: '#000',
              padding: 12,
              autoSkip: false,
              callback: (v: any) => Number(v).toFixed(1),
            },
            grid,
            border: { display: false },
          },
        },
      },
      plugins: [decorPlugin(row, col)],
    } as any);

    return () => chart.destroy();
  }, [row, col]);

  return (
    <canvas
      ref={ref}
      width={CANVAS_W}
      height={CANVAS_H}
      style={{
        position: 'absolute',
        left: COL_LEFT[col] - PAD_L,
        top: ROW_TOP[row] - PAD_T,
        width: CANVAS_W,
        height: CANVAS_H,
      }}
    />
  );
}

export default function App() {
  return (
    <div
      style={{
        position: 'absolute',
        left: 0,
        top: 0,
        width: 2332,
        height: 2349,
        background: '#ffffff',
        overflow: 'hidden',
      }}
    >
      {STATES.map((r) => STATES.map((c) => <Panel key={`${r}-${c}`} row={r} col={c} />))}
    </div>
  );
}
